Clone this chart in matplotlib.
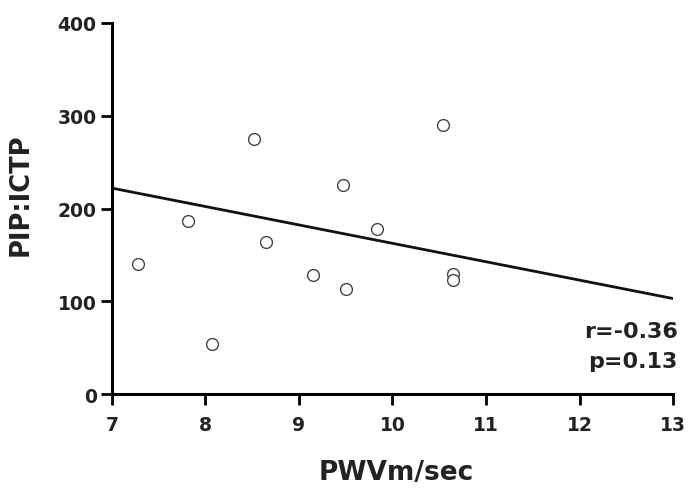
import matplotlib
matplotlib.use("Agg")
import matplotlib.pyplot as plt

# PWV (m/sec) vs PIP:ICTP
pwv = [7.28, 7.81, 8.07, 8.52, 8.65, 9.15, 9.47, 9.50, 9.83, 10.54, 10.65, 10.65]
pip_ictp = [140, 187, 54, 275, 164, 128, 225, 113, 178, 290, 129, 123]

# regression line end points
fit_x = [7, 13]
fit_y = [222, 103]

x_ticks = [7, 8, 9, 10, 11, 12, 13]
y_ticks = [0, 100, 200, 300, 400]

plt.rcParams["font.family"] = ["DejaVu Sans"]
text_color = "#222222"

fig = plt.figure(figsize=(6.91, 4.89), dpi=100)
ax = fig.add_axes([0.162, 0.192, 0.812, 0.759])

ax.plot(fit_x, fit_y, color="#111111", linewidth=2.0, zorder=2)
ax.plot(pwv, pip_ictp, linestyle="none", marker="o", markersize=8.5,
        markerfacecolor="white", markeredgecolor="#444444", markeredgewidth=1.0, zorder=3)

ax.set_xlim(7, 13)
ax.set_ylim(0, 400)
ax.set_xticks(x_ticks)
ax.set_yticks(y_ticks)
ax.tick_params(direction="out", length=8, width=2, labelsize=13.5, labelcolor=text_color)
ax.tick_params(axis="x", pad=7)
ax.tick_params(axis="y", pad=3)
for lab in ax.get_xticklabels() + ax.get_yticklabels():
    lab.set_fontweight("bold")

for side in ["top", "right"]:
    ax.spines[side].set_visible(False)
for side in ["left", "bottom"]:
    ax.spines[side].set_linewidth(2.2)

ax.set_xlabel("PWVm/sec", fontsize=19, fontweight="bold", color=text_color, va="top")
ax.xaxis.set_label_coords(0.506, -0.175)
ax.set_ylabel("PIP:ICTP", fontsize=18.5, fontweight="bold", color=text_color, va="center")
ax.yaxis.set_label_coords(-0.162, 0.539)

ax.text(13.05, 62, "r=-0.36", ha="right", va="baseline", fontsize=16, fontweight="bold", color=text_color)
ax.text(13.05, 29, "p=0.13", ha="right", va="baseline", fontsize=16, fontweight="bold", color=text_color)

fig.savefig("out.png", dpi=100)
